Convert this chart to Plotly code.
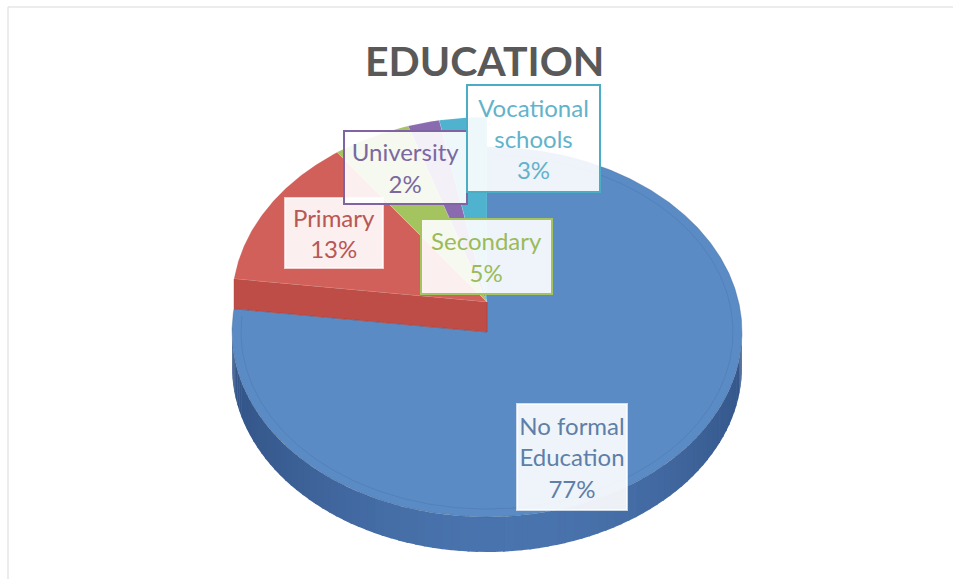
import numpy as np
import plotly.graph_objects as go

# ---- data -------------------------------------------------------------
categories = ["No formal Education", "Primary", "Secondary", "University", "Vocational schools"]
shares = [77, 13, 5, 2, 3]  # percent

# ---- styling ----------------------------------------------------------
top_colors = ["#5B8BC5", "#D2605A", "#A3C45E", "#8B6BB0", "#4FB3CF"]
side_colors = ["#4670A6", "#BF4D47", "#8FAE4E", "#74599A", "#3F9AB5"]
text_colors = ["#5D7FA8", "#B85753", "#9BBB59", "#7B68A0", "#62B3CA"]
border_colors = ["rgba(255,255,255,0.7)", "rgba(255,255,255,0.7)", "#A3C45E", "#8064A2", "#4BACC6"]

W, H = 953, 579
CX, CY = 487, 332         # centre of the base slice's top face (pixels)
RX, RY = 255, 185         # ellipse radii of the top face
DEPTH = 35                # thickness of the disc
RAISE = 30                # lift of the smaller slices

# label box centres / sizes (pixels)
label_boxes = [
    (572, 457, 112, 108),
    (334, 233, 100, 72),
    (486, 256, 133, 77),
    (405, 167, 125, 75),
    (533, 138, 135, 109),
]


def rim(theta_deg, cy):
    t = np.radians(theta_deg)
    return CX + RX * np.sin(t), cy - RY * np.cos(t)


def wrap(name):
    parts = name.rsplit(" ", 1)
    return "<br>".join(parts) if len(parts) == 2 else name


fig = go.Figure()

# slice boundaries, clockwise from 12 o'clock
bounds = np.concatenate([[0], np.cumsum(shares) / sum(shares) * 360])

# front wall of the disc, drawn as shaded strips
n_strips = 90
wall_angles = np.linspace(90, 270, n_strips + 1)
for a0, a1 in zip(wall_angles[:-1], wall_angles[1:]):
    mid = 0.5 * (a0 + a1)
    light = np.cos(np.radians(mid - 175)) ** 2   # brighter toward the front
    r = int(52 + 22 * light)
    g = int(86 + 30 * light)
    b = int(138 + 36 * light)
    ts = np.linspace(a0, a1 + 0.4, 4)
    xs_top, ys_top = rim(ts, CY)
    xs_bot, ys_bot = rim(ts[::-1], CY + DEPTH)
    fig.add_trace(go.Scatter(
        x=np.concatenate([xs_top, xs_bot]), y=np.concatenate([ys_top, ys_bot]),
        fill="toself", mode="lines", line=dict(width=0),
        fillcolor=f"rgb({r},{g},{b})", hoverinfo="skip", showlegend=False))

# top faces
for i, (name, v) in enumerate(zip(categories, shares)):
    a0, a1 = bounds[i], bounds[i + 1]
    cy = CY if i == 0 else CY - RAISE
    ts = np.linspace(a0, a1, max(int((a1 - a0) * 2), 4))
    xs, ys = rim(ts, cy)
    if i == 0:
        fig.add_trace(go.Scatter(
            x=np.concatenate([[CX], xs, [CX]]), y=np.concatenate([[cy], ys, [cy]]),
            fill="toself", mode="lines", line=dict(width=0.6, color="rgba(60,95,140,0.6)"),
            fillcolor=top_colors[i], hoverinfo="skip", showlegend=False))
        # cut face of the lifted slices along this slice's last edge
        ex_lo, ey_lo = rim(a1, CY)
        ex_hi, ey_hi = rim(a1, CY - RAISE)
        fig.add_trace(go.Scatter(
            x=[CX, ex_lo, ex_hi, CX, CX], y=[CY, ey_lo, ey_hi, CY - RAISE, CY],
            fill="toself", mode="lines", line=dict(width=0.6, color="rgba(150,50,45,0.6)"),
            fillcolor=side_colors[1], hoverinfo="skip", showlegend=False))
    else:
        fig.add_trace(go.Scatter(
            x=np.concatenate([[CX], xs, [CX]]), y=np.concatenate([[cy], ys, [cy]]),
            fill="toself", mode="lines", line=dict(width=0.5, color="rgba(255,255,255,0.25)"),
            fillcolor=top_colors[i], hoverinfo="skip", showlegend=False))

# subtle bevel ring on the base slice
ts = np.linspace(bounds[0] + 2, bounds[1] - 2, 300)
t = np.radians(ts)
fig.add_trace(go.Scatter(
    x=CX + (RX - 9) * np.sin(t), y=CY - (RY - 8) * np.cos(t),
    mode="lines", line=dict(width=1, color="rgba(70,110,160,0.35)"),
    hoverinfo="skip", showlegend=False))

# data labels
annotations = []
for i, (name, v) in enumerate(zip(categories, shares)):
    x, y, bw, bh = label_boxes[i]
    annotations.append(dict(
        x=x, y=y, xref="x", yref="y", showarrow=False,
        text=f"{wrap(name)}<br>{v}%",
        font=dict(family="Lato, Open Sans, sans-serif", size=24, color=text_colors[i]),
        align="center", xanchor="center", yanchor="middle",
        bgcolor="rgba(255,255,255,0.9)", bordercolor=border_colors[i],
        borderwidth=2, borderpad=0, width=bw - 4, height=bh - 4))

annotations.append(dict(
    x=W / 2 + 8, y=60, xref="x", yref="y", showarrow=False,
    text="<b>EDUCATION</b>",
    font=dict(family="Lato, Open Sans, sans-serif", size=41, color="#595959"),
    xanchor="center", yanchor="middle"))

fig.update_layout(
    width=W, height=H,
    margin=dict(l=0, r=0, t=0, b=0),
    paper_bgcolor="white", plot_bgcolor="white",
    xaxis=dict(range=[0, W], visible=False, fixedrange=True),
    yaxis=dict(range=[H, 0], visible=False, fixedrange=True),
    annotations=annotations,
    shapes=[dict(type="rect", xref="x", yref="y", x0=8, y0=7, x1=W + 5, y1=H + 5,
                 line=dict(color="#D9D9D9", width=1), layer="below")],
)

fig.write_html("out.html")
